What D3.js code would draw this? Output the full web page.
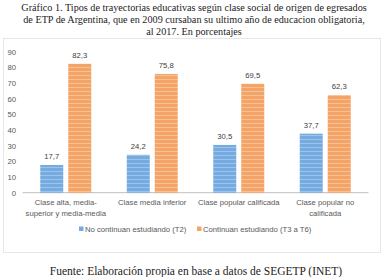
<!DOCTYPE html>
<html>
<head>
<meta charset="utf-8">
<script src="https://cdn.jsdelivr.net/npm/d3@7"></script>
<style>
  body { margin: 0; background: #fff; }
  svg { display: block; }
</style>
</head>
<body>
<div id="chart"></div>
<script>
const categories = [
    ['Clase alta, media-', 'superior y media-media'],
    ['Clase media inferior'],
    ['Clase popular calificada'],
    ['Clase popular no', 'calificada']
];
const seriesNames = ['No continuan estudiando (T2)', 'Continuan estudiando (T3 a T6)'];
const noContinuan = [17.7, 24.2, 30.5, 37.7];
const continuan = [82.3, 75.8, 69.5, 62.3];
const yTicks = [0, 10, 20, 30, 40, 50, 60, 70, 80, 90];
const titleLines = [
    'Gráfico 1. Tipos de trayectorias educativas según clase social de origen de egresados',
    'de ETP de Argentina, que en 2009 cursaban su ultimo año de educacion obligatoria,',
    'al 2017. En porcentajes'
];
const sourceText = 'Fuente: Elaboración propia en base a datos de SEGETP (INET)';

const width = 385, height = 277;
const colors = ['#76abe1', '#f5a467'];
const stripes = ['#9cc3ea', '#f8c093'];

const svg = d3.select('#chart')
    .append('svg')
    .attr('width', width)
    .attr('height', height);

// Stripe patterns for the bars
const defs = svg.append('defs');
colors.forEach((c, i) => {
    const p = defs.append('pattern')
        .attr('id', 'pat' + i)
        .attr('patternUnits', 'userSpaceOnUse')
        .attr('width', 8).attr('height', 4);
    p.append('rect').attr('width', 8).attr('height', 4).attr('fill', c);
    p.append('rect').attr('y', 3).attr('width', 8).attr('height', 1).attr('fill', stripes[i]);
});

// Title
svg.append('g')
    .selectAll('text')
    .data(titleLines)
    .join('text')
    .attr('x', 194)
    .attr('y', (d, i) => 11 + i * 12)
    .attr('text-anchor', 'middle')
    .attr('font-family', '"Liberation Serif", serif')
    .attr('font-size', 10.2)
    .attr('fill', '#222')
    .text(d => d);

// Chart frame
svg.append('rect')
    .attr('x', 3.5).attr('y', 38.5)
    .attr('width', 377).attr('height', 214)
    .attr('fill', 'none')
    .attr('stroke', '#e6e6e6');

const y = d3.scaleLinear().domain([0, 90]).range([192.7, 51.7]);
const x0 = d3.scaleBand().domain(d3.range(categories.length)).range([22.5, 368.5]);
const x1 = d3.scaleBand().domain([0, 1])
    .range([17.75, 68.75])
    .paddingInner(0.1786);

const textFont = '"Liberation Sans", Arial, sans-serif';
const textSize = 7.7;

// Y axis labels
const yAxis = svg.append('g')
    .attr('transform', 'translate(16,0)')
    .call(d3.axisLeft(y).tickValues(yTicks).tickSize(0).tickPadding(0));
yAxis.select('.domain').remove();
yAxis.selectAll('text')
    .attr('font-family', textFont)
    .attr('font-size', textSize)
    .attr('fill', '#595959');

// Baseline
svg.append('line')
    .attr('x1', 22.5).attr('x2', 368.5)
    .attr('y1', y(0)).attr('y2', y(0))
    .attr('stroke', '#bfbfbf')
    .attr('stroke-width', 1);

const series = [noContinuan, continuan];

const groups = svg.append('g')
    .selectAll('g')
    .data(categories.map((c, i) => i))
    .join('g')
    .attr('transform', i => `translate(${x0(i)},0)`);

groups.selectAll('rect')
    .data(i => series.map((s, k) => ({ k, v: s[i] })))
    .join('rect')
    .attr('x', d => x1(d.k))
    .attr('y', d => y(d.v))
    .attr('width', x1.bandwidth())
    .attr('height', d => y(0) - y(d.v))
    .attr('fill', d => `url(#pat${d.k})`);

groups.selectAll('text.val')
    .data(i => series.map((s, k) => ({ k, v: s[i] })))
    .join('text')
    .attr('class', 'val')
    .attr('x', d => x1(d.k) + x1.bandwidth() / 2)
    .attr('y', d => y(d.v) - 6)
    .attr('text-anchor', 'middle')
    .attr('font-family', textFont)
    .attr('font-size', textSize)
    .attr('fill', '#404040')
    .text(d => d3.format('.1f')(d.v).replace('.', ','));

// Category labels
groups.append('g')
    .selectAll('text')
    .data(i => categories[i])
    .join('text')
    .attr('x', x0.bandwidth() / 2)
    .attr('y', (d, j) => 205 + j * 10.5)
    .attr('text-anchor', 'middle')
    .attr('font-family', textFont)
    .attr('font-size', textSize)
    .attr('fill', '#595959')
    .text(d => d);

// Legend
const legendX = [79, 197];
const legend = svg.append('g')
    .selectAll('g')
    .data(seriesNames)
    .join('g')
    .attr('transform', (d, i) => `translate(${legendX[i]},229)`);
legend.append('rect')
    .attr('x', 0).attr('y', -2.5)
    .attr('width', 4.5).attr('height', 4.5)
    .attr('fill', (d, i) => colors[i]);
legend.append('text')
    .attr('x', 6)
    .attr('y', 2.7)
    .attr('font-family', textFont)
    .attr('font-size', textSize)
    .attr('fill', '#595959')
    .text(d => d);

// Source
svg.append('text')
    .attr('x', 196)
    .attr('y', 275)
    .attr('text-anchor', 'middle')
    .attr('font-family', '"Liberation Serif", serif')
    .attr('font-size', 11.5)
    .attr('fill', '#222')
    .text(sourceText);
</script>
</body>
</html>
